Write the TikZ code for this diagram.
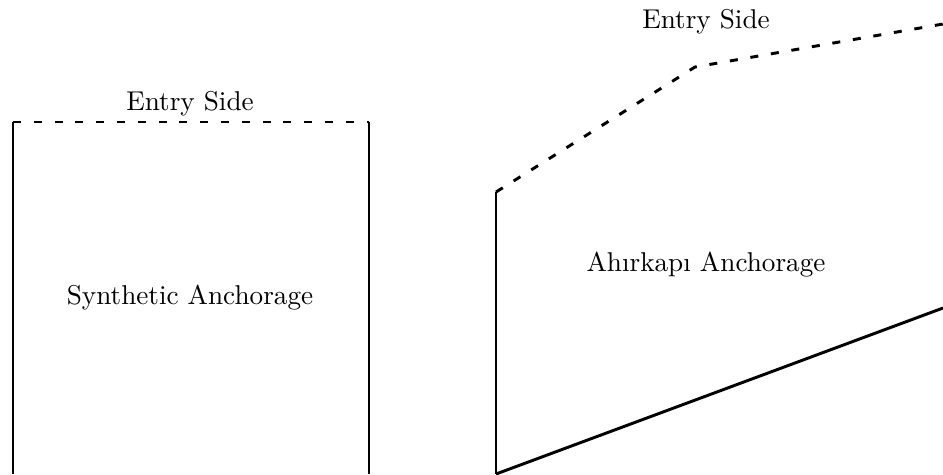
\documentclass[tikz,border=0pt]{standalone}
\usepackage{fontspec}
\begin{document}
\begin{tikzpicture}[x=0.375pt,y=-0.375pt,
  wall/.style={line width=1.1pt},
  entry/.style={line width=1.1pt,dash pattern=on 3pt off 4.8pt},
  lbl/.style={inner sep=0pt,font=\fontsize{10.2}{12}\selectfont}]
\useasboundingbox (0,0) rectangle (943,474);
% left anchorage
\coordinate (l1) at (13,474);
\coordinate (l2) at (13,122);
\coordinate (l3) at (369,122);
\coordinate (l4) at (369,474);
\draw[wall] (l1) -- (l2);
\draw[wall] (l3) -- (l4);
\draw[entry] (l2) -- (l3);
\node[lbl] (e1) at (190,104) {Entry Side};
\node[lbl] (s1) at (190,298) {Synthetic Anchorage};
% right anchorage
\coordinate (r1) at (496,474);
\coordinate (r2) at (496,192);
\coordinate (r3) at (695,67);
\coordinate (r4) at (943,24);
\coordinate (r5) at (943,308);
\draw[wall] (r1) -- (r2);
\draw[entry] (r2) -- (r3) -- (r4);
\draw[wall] (r1) -- (r5);
\node[lbl] (e2) at (706,22) {Entry Side};
\node[lbl] (s2) at (706,265) {Ahırkapı Anchorage};
\end{tikzpicture}
\end{document}
